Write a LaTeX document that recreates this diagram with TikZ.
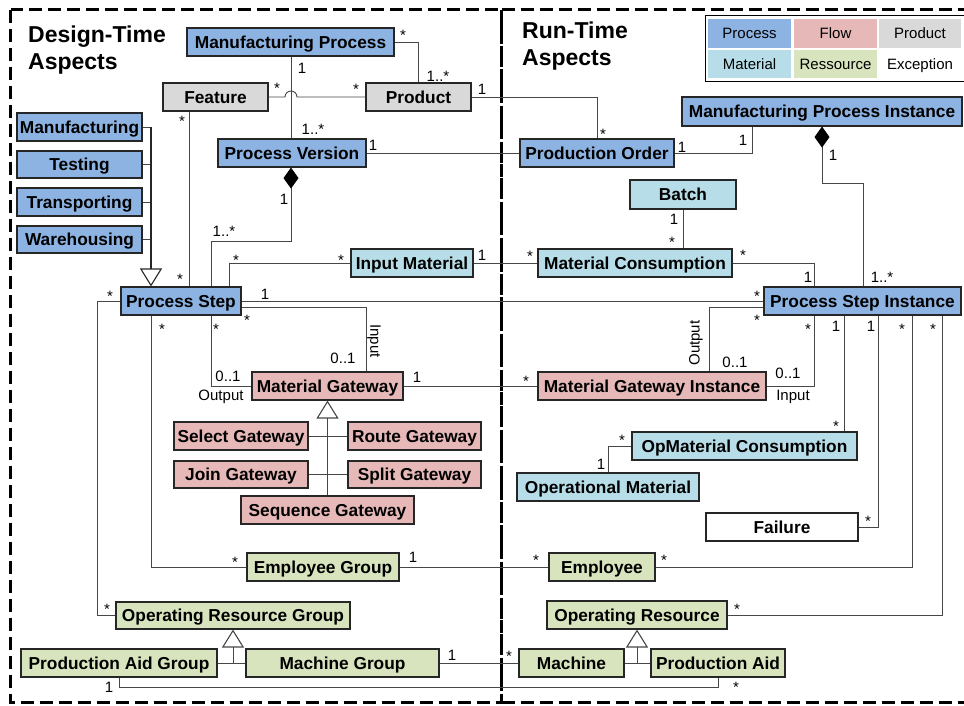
\documentclass[tikz,border=0pt]{standalone}
\usepackage{fontspec}
\setmainfont{Liberation Sans}
\usetikzlibrary{arrows.meta}
\definecolor{proc}{HTML}{8DB3E2}
\definecolor{flow}{HTML}{E6B9B8}
\definecolor{prodc}{HTML}{D9D9D9}
\definecolor{mat}{HTML}{B7DEE8}
\definecolor{res}{HTML}{D7E4BD}
\newcommand{\umlbox}[7]{\node[box,fill=#6,minimum width={(#4)-(#2)},minimum height={(#5)-(#3)}] (#1) at ({((#2)+(#4))/2},{((#3)+(#5))/2}) {#7};}
\newcommand{\legcell}[7]{\node[cell,fill=#6,minimum width={(#4)-(#2)},minimum height={(#5)-(#3)}] (#1) at ({((#2)+(#4))/2},{((#3)+(#5))/2}) {#7};}
\begin{document}
\begin{tikzpicture}[x=1pt,y=-1pt,
  box/.style={draw=black!85,line width=1.1pt,inner sep=0pt,text height=12.4pt,text depth=0pt,font=\fontsize{17.3}{20}\selectfont\bfseries},
  cell/.style={inner sep=0pt,text height=10.7pt,text depth=0pt,font=\fontsize{15}{18}\selectfont},
  con/.style={draw=black!72,line width=0.9pt},
  lab/.style={anchor=base,inner sep=0pt,font=\fontsize{15}{18}\selectfont},
  ttl/.style={anchor=base west,inner sep=0pt,font=\fontsize{23}{27}\selectfont\bfseries},
  frame/.style={line width=2.2pt,dash pattern=on 13pt off 6pt},
  gen/.style={-{Triangle[open,length=18pt,width=22pt,line width=1.1pt]}},
  comp/.style={{Diamond[length=21pt,width=15pt,fill=black,color=black]}-}]
\useasboundingbox (0,0) rectangle (964,705);
% frames
\draw[frame] (10.5,9.5) rectangle (501.5,702.5);
\draw[frame] (501.5,9.5) -- (980,9.5);
\draw[frame] (501.5,702.5) -- (980,702.5);
\draw[line width=2.2pt,dash pattern=on 9pt off 3pt] (501.5,9.5) -- (501.5,702.5);
% titles
\node[ttl] (t1) at (28,42) {Design-Time};
\node[ttl] (t2) at (28,69) {Aspects};
\node[ttl] (t3) at (522,38.5) {Run-Time};
\node[ttl] (t4) at (522,65.5) {Aspects};
% legend
\draw[line width=1pt] (705,15) rectangle (970,81);
\legcell{lg1}{708}{19}{791}{48}{proc}{Process}
\legcell{lg2}{794}{19}{877}{48}{flow}{Flow}
\legcell{lg3}{879}{19}{961}{48}{prodc}{Product}
\legcell{lg4}{708}{50}{791}{78}{mat}{Material}
\legcell{lg5}{794}{50}{877}{78}{res}{Ressource}
\legcell{lg6}{879}{50}{961}{78}{white}{Exception}
% boxes
\umlbox{mp}{187}{28}{394}{56}{proc}{Manufacturing Process}
\umlbox{feat}{163}{83}{268}{111}{prodc}{Feature}
\umlbox{prod}{366}{83}{471}{111}{prodc}{Product}
\umlbox{pv}{218}{139}{366}{167}{proc}{Process Version}
\umlbox{manu}{17}{113}{142}{141}{proc}{Manufacturing}
\umlbox{test}{17}{151}{142}{178}{proc}{Testing}
\umlbox{trans}{17}{188}{142}{216}{proc}{Transporting}
\umlbox{ware}{17}{226}{142}{253}{proc}{Warehousing}
\umlbox{ps}{121}{287}{241}{315}{proc}{Process Step}
\umlbox{im}{351}{249}{473}{277}{mat}{Input Material}
\umlbox{mg}{252}{372}{403}{400}{flow}{Material Gateway}
\umlbox{sel}{174}{422}{308}{450}{flow}{Select Gateway}
\umlbox{route}{348}{422}{481}{450}{flow}{Route Gateway}
\umlbox{join}{174}{461}{308}{488}{flow}{Join Gateway}
\umlbox{split}{348}{461}{481}{488}{flow}{Split Gateway}
\umlbox{seq}{241}{496}{414}{524}{flow}{Sequence Gateway}
\umlbox{eg}{247}{553}{399}{581}{res}{Employee Group}
\umlbox{org}{116}{602}{350}{629}{res}{Operating Resource Group}
\umlbox{pag}{21}{649}{217}{677}{res}{Production Aid Group}
\umlbox{mgrp}{246}{649}{439}{677}{res}{Machine Group}
\umlbox{po}{520}{139}{674}{167}{proc}{Production Order}
\umlbox{mpi}{682}{97}{962}{126}{proc}{Manufacturing Process Instance}
\umlbox{batch}{630}{180}{736}{209}{mat}{Batch}
\umlbox{mc}{538}{249}{732}{277}{mat}{Material Consumption}
\umlbox{psi}{764}{287}{961}{315}{proc}{Process Step Instance}
\umlbox{mgi}{538}{372}{766}{400}{flow}{Material Gateway Instance}
\umlbox{omc}{632}{432}{857}{460}{mat}{OpMaterial Consumption}
\umlbox{om}{517}{473}{699}{501}{mat}{Operational Material}
\umlbox{fail}{706}{513}{858}{541}{white}{Failure}
\umlbox{emp}{549}{553}{655}{581}{res}{Employee}
\umlbox{orr}{547}{601}{727}{629}{res}{Operating Resource}
\umlbox{mach}{519}{649}{624}{677}{res}{Machine}
\umlbox{pa}{651}{649}{785}{677}{res}{Production Aid}
% connectors
\draw[con] (mp.east) -| (prod.north);
\draw[con] (mp.south -| 291,0) -- (pv.north -| 291,0);
\draw[con] (feat.east) -- (feat.east -| 285,0) arc[start angle=180,end angle=360,radius=6] -- (prod.west);
\draw[con] (prod.east) -| (po.north -| 597,0);
\draw[con] (pv.east) -- (po.west);
\draw[con] (po.east) -| (mpi.south -| 752,0);
\draw[con,comp] (mpi.south -| 822,0) -- (822,183) -| (psi.north -| 863,0);
\draw[con,comp] (pv.south -| 291,0) -- (291,241) -| (ps.north -| 211,0);
\draw[con] (feat.south -| 189,0) -- (ps.north -| 189,0);
\draw[con] (manu.east) -- (manu.east -| 151,0);
\draw[con] (test.east) -- (test.east -| 151,0);
\draw[con] (trans.east) -- (trans.east -| 151,0);
\draw[con] (ware.east) -- (ware.east -| 151,0);
\draw[con,line width=1.3pt,draw=black!85,gen] (manu.east -| 151,0) -- (ps.north -| 151,0);
\draw[con] (ps.north -| 229,0) |- (im.west);
\draw[con] (im.east) -- (mc.west);
\draw[con] (batch.south -| 683,0) -- (mc.north -| 683,0);
\draw[con] (mc.east) -| (psi.north -| 814,0);
\draw[con] (ps.east) -- (psi.west);
\draw[con] (ps.east |- 0,307) -| (mg.north -| 366,0);
\draw[con] (ps.south -| 211,0) |- (mg.west);
\draw[con] (ps.south -| 151,0) |- (eg.west);
\draw[con] (ps.west) -- (ps.west -| 97,0) |- (org.west);
\draw[con] (mg.east) -- (mgi.west);
\draw[con,gen] (seq.north) -- (mg.south);
\draw[con] (sel.east) -- (route.west);
\draw[con] (join.east) -- (split.west);
\draw[con] (eg.east) -- (emp.west);
\draw[con] (emp.east) -| (psi.south -| 912,0);
\draw[con] (psi.south -| 942,0) |- (orr.east);
\draw[con] (psi.south -| 814,0) |- (mgi.east);
\draw[con] (psi.south -| 844,0) -- (omc.north -| 844,0);
\draw[con] (psi.south -| 878,0) |- (fail.east);
\draw[con] (psi.west |- 0,307) -| (mgi.north -| 709,0);
\draw[con] (omc.west) -| (om.north -| 608,0);
\draw[con,gen] (mach.east -| 637,0) -- (orr.south -| 637,0);
\draw[con] (mach.east) -- (pa.west);
\draw[con,gen] (pag.east -| 233,0) -- (org.south -| 233,0);
\draw[con] (pag.east) -- (mgrp.west);
\draw[con] (mgrp.east) -- (mach.west);
\draw[con] (pag.south -| 119,0) -- (119,687) -| (pa.south -| 718,0);
% labels
\node[lab] (l1) at (403,40.5) {*};
\node[lab] (l2) at (302,73.4) {1};
\node[lab] (l3) at (438,81) {1..*};
\node[lab] (l4) at (277,93.5) {*};
\node[lab] (l5) at (356,94.5) {*};
\node[lab] (l6) at (482,94) {1};
\node[lab] (l7) at (182,126.5) {*};
\node[lab] (l8) at (313,134) {1..*};
\node[lab] (l9) at (373,150) {1};
\node[lab] (l10) at (603,139.5) {*};
\node[lab] (l11) at (682,152) {1};
\node[lab] (l12) at (743,145.5) {1};
\node[lab] (l13) at (833,160) {1};
\node[lab] (l14) at (284,204.5) {1};
\node[lab] (l15) at (224,236.5) {1..*};
\node[lab] (l16) at (236,265.5) {*};
\node[lab] (l17) at (341,265.5) {*};
\node[lab] (l18) at (482,260) {1};
\node[lab] (l19) at (180,284.5) {*};
\node[lab] (l20) at (110,301) {*};
\node[lab] (l21) at (265,299) {1};
\node[lab] (l22) at (247,325) {*};
\node[lab] (l23) at (162,334) {*};
\node[lab] (l24) at (216,334) {*};
\node[lab] (l25) at (674,224.5) {1};
\node[lab] (l26) at (672,247.5) {*};
\node[lab] (l27) at (530,261.5) {*};
\node[lab] (l28) at (743,260) {*};
\node[lab] (l29) at (808,282) {1};
\node[lab] (l30) at (882,282) {1..*};
\node[lab] (l31) at (757,301.5) {*};
\node[lab] (l32) at (757,325) {*};
\node[lab] (l33) at (808,334.5) {*};
\node[lab] (l34) at (836,331.5) {1};
\node[lab] (l35) at (871,331.5) {1};
\node[lab] (l36) at (902,334.5) {*};
\node[lab] (l37) at (933,334.5) {*};
\node[lab] (l38) at (343,363) {0..1};
\node[lab] (l39) at (228,381.5) {0..1};
\node[lab] (l40) at (221,400) {Output};
\node[lab] (l41) at (417,382) {1};
\node[lab,anchor=center,rotate=-90] (l42) at (374,341) {Input};
\node[lab] (l43) at (526,386) {*};
\node[lab] (l44) at (735,367.5) {0..1};
\node[lab] (l45) at (788,378) {0..1};
\node[lab] (l46) at (793,400.7) {Input};
\node[lab,anchor=center,rotate=90] (l47) at (696,343) {Output};
\node[lab] (l48) at (836,431.5) {*};
\node[lab] (l49) at (622,445) {*};
\node[lab] (l50) at (601,469) {1};
\node[lab] (l51) at (868,526.5) {*};
\node[lab] (l52) at (235,567.5) {*};
\node[lab] (l53) at (413,562) {1};
\node[lab] (l54) at (107,614.5) {*};
\node[lab] (l55) at (452,660) {1};
\node[lab] (l56) at (109,692) {1};
\node[lab] (l57) at (536,565.5) {*};
\node[lab] (l58) at (664,565.5) {*};
\node[lab] (l59) at (737,614.5) {*};
\node[lab] (l60) at (509,661) {*};
\node[lab] (l61) at (736,692.5) {*};
\end{tikzpicture}
\end{document}
